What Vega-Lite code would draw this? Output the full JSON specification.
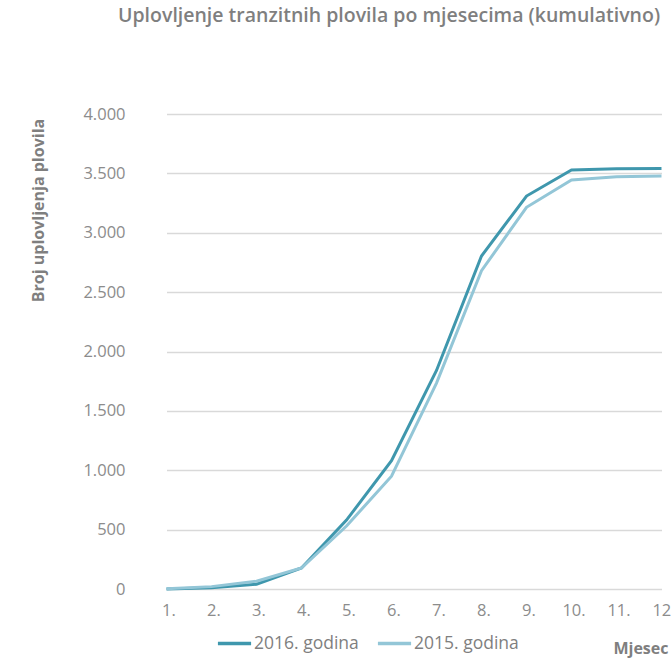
{
  "$schema": "https://vega.github.io/schema/vega-lite/v6.json",
  "autosize": "none",
  "padding": {"left": 144, "top": 114, "right": 0, "bottom": 69},
  "width": 527,
  "height": 475,
  "background": "white",
  "title": {
    "text": "Uplovljenje tranzitnih plovila po mjesecima (kumulativno)",
    "anchor": "start",
    "frame": "group",
    "dx": -26,
    "dy": -61,
    "baseline": "alphabetic",
    "font": "Open Sans",
    "fontSize": 19.5,
    "fontWeight": 600,
    "color": "#7f7f7f"
  },
  "data": {
    "values": [
      {"mjesec": 1, "serija": "2016. godina", "broj": 0},
      {"mjesec": 2, "serija": "2016. godina", "broj": 10},
      {"mjesec": 3, "serija": "2016. godina", "broj": 40},
      {"mjesec": 4, "serija": "2016. godina", "broj": 177},
      {"mjesec": 5, "serija": "2016. godina", "broj": 580},
      {"mjesec": 6, "serija": "2016. godina", "broj": 1080},
      {"mjesec": 7, "serija": "2016. godina", "broj": 1840},
      {"mjesec": 8, "serija": "2016. godina", "broj": 2804},
      {"mjesec": 9, "serija": "2016. godina", "broj": 3309},
      {"mjesec": 10, "serija": "2016. godina", "broj": 3528},
      {"mjesec": 11, "serija": "2016. godina", "broj": 3539},
      {"mjesec": 12, "serija": "2016. godina", "broj": 3542},
      {"mjesec": 1, "serija": "2015. godina", "broj": 2},
      {"mjesec": 2, "serija": "2015. godina", "broj": 20},
      {"mjesec": 3, "serija": "2015. godina", "broj": 65},
      {"mjesec": 4, "serija": "2015. godina", "broj": 177},
      {"mjesec": 5, "serija": "2015. godina", "broj": 530},
      {"mjesec": 6, "serija": "2015. godina", "broj": 950},
      {"mjesec": 7, "serija": "2015. godina", "broj": 1734},
      {"mjesec": 8, "serija": "2015. godina", "broj": 2680},
      {"mjesec": 9, "serija": "2015. godina", "broj": 3214},
      {"mjesec": 10, "serija": "2015. godina", "broj": 3444},
      {"mjesec": 11, "serija": "2015. godina", "broj": 3472},
      {"mjesec": 12, "serija": "2015. godina", "broj": 3478}
    ]
  },
  "mark": {"type": "line", "strokeWidth": 3, "strokeJoin": "miter"},
  "encoding": {
    "x": {
      "field": "mjesec",
      "type": "ordinal",
      "sort": "ascending",
      "scale": {"type": "point", "range": [22.5, 517.5], "padding": 0},
      "axis": {
        "title": "Mjesec",
        "titleX": 524,
        "titleY": 64,
        "titleAlign": "right",
        "titleBaseline": "alphabetic",
        "titleFont": "Open Sans",
        "titleFontSize": 16,
        "titleFontWeight": "bold",
        "titleColor": "#7f7f7f",
        "labelAngle": 0,
        "labelExpr": "datum.label + '.'",
        "labelFont": "Open Sans",
        "labelFontSize": 16.5,
        "labelColor": "#8c8c8c",
        "labelPadding": 13,
        "labelOffset": 2,
        "ticks": false,
        "domain": false,
        "grid": false
      }
    },
    "y": {
      "field": "broj",
      "type": "quantitative",
      "scale": {"domain": [0, 4000], "nice": false},
      "axis": {
        "values": [0, 500, 1000, 1500, 2000, 2500, 3000, 3500, 4000],
        "labelExpr": "replace(format(datum.value, ','), ',', '.')",
        "labelFont": "Open Sans",
        "labelFontSize": 16.5,
        "labelColor": "#8c8c8c",
        "labelPadding": 19,
        "ticks": false,
        "domain": false,
        "grid": true,
        "gridColor": "#d9d9d9",
        "gridWidth": 1.5,
        "title": "Broj uplovljenja plovila",
        "titleX": -106,
        "titleY": 96,
        "titleAngle": -90,
        "titleAlign": "center",
        "titleBaseline": "middle",
        "titleFont": "Open Sans",
        "titleFontSize": 16,
        "titleFontWeight": "bold",
        "titleColor": "#7f7f7f"
      }
    },
    "color": {
      "field": "serija",
      "type": "nominal",
      "sort": ["2016. godina", "2015. godina"],
      "scale": {"domain": ["2016. godina", "2015. godina"], "range": ["#3f97ad", "#93c6d7"]},
      "legend": {
        "title": null,
        "orient": "none",
        "direction": "horizontal",
        "legendX": 72,
        "legendY": 511,
        "symbolType": "stroke",
        "symbolSize": 1100,
        "symbolStrokeWidth": 3.5,
        "labelFont": "Open Sans",
        "labelFontSize": 17.5,
        "labelColor": "#7f7f7f",
        "labelOffset": 1,
        "columnPadding": 11
      }
    }
  },
  "config": {"view": {"stroke": null}}
}
